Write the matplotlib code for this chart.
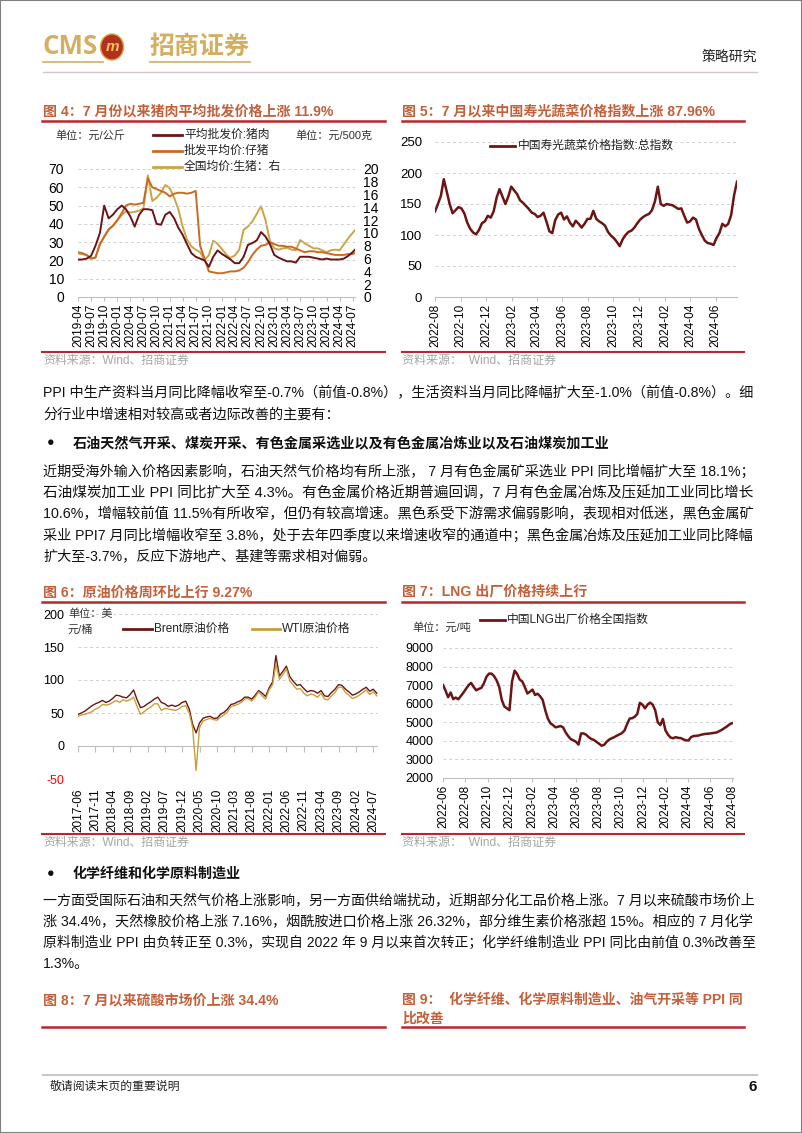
import numpy as np
import pandas as pd
import matplotlib
matplotlib.use("Agg")
import matplotlib.pyplot as plt
from matplotlib.lines import Line2D
from matplotlib.patches import Ellipse, Rectangle

plt.rcParams['font.family'] = ['Liberation Sans', 'Noto Sans CJK SC']
plt.rcParams['axes.unicode_minus'] = False

# ---------------- 数据 ----------------
# 图4: 猪肉价格 (月度, 2019-04 起)
pig_dates = pd.date_range('2019-04-01', periods=65, freq='MS')
pork = [20.5, 20.5, 21, 22.5, 28, 35, 50, 43, 45, 48,
        50, 48, 44, 38.5, 45, 48, 48, 47.5, 40, 39.5,
        45, 46.5, 43, 38, 34, 29, 24, 22, 21, 20,
        16.5, 22, 25.5, 23.5, 22, 20.5, 18.5, 18.5, 22, 28.5,
        29.5, 31, 35.5, 33, 29, 23, 21.5, 20.5, 19.5, 19.5,
        18.8, 22, 22, 22, 21.5, 21, 20.5, 21, 20.5, 20.5,
        20.5, 21, 22.5, 24.5, 27]
piglet = [24.5, 24, 23, 21, 21.5, 29, 33, 37, 39, 42,
          46, 50, 51, 50.5, 51, 51.5, 65, 60, 59, 58,
          57, 55, 56.5, 57, 57, 56.5, 57, 58, 28, 21,
          14, 13.5, 13, 13, 13.5, 14, 14, 14.5, 16, 19,
          23, 26, 28, 28.5, 30, 29, 28, 28, 27.5, 27.5,
          26.5, 25.5, 24.5, 25, 25, 24.5, 24.5, 24, 23.5, 23,
          23, 23, 23.5, 23.5, 24.5]
hog = [6.8, 6.7, 6.5, 6.0, 6.2, 8.2, 9.4, 10.5, 11.1, 12.0,
       12.8, 13.4, 13.2, 13.3, 13.5, 13.8, 19.0, 15.0, 15.5, 16.3,
       17.5, 17.0, 15.5, 13.8, 11.0, 9.0, 7.9, 7.4, 7.0, 5.8,
       6.5, 8.8, 8.3, 7.5, 6.6, 6.1, 6.5, 7.4, 10.5, 11.0,
       11.8, 13.0, 14.2, 12.0, 8.8, 7.6, 7.4, 7.6, 7.7, 7.4,
       7.3, 8.9, 8.4, 8.0, 7.6, 7.6, 7.3, 7.0, 7.3, 7.4,
       7.3, 8.2, 9.2, 10.0, 10.8]

# 图5: 寿光蔬菜价格指数 (周度, 2022-08 起)
veg_dates = pd.date_range('2022-08-01', periods=104, freq='7D')
veg = [138, 150, 163, 190, 170, 150, 135, 140, 145, 143,
       135, 120, 110, 104, 101, 108, 119, 122, 131, 128,
       138, 160, 174, 162, 150, 162, 178, 172, 166, 156,
       152, 147, 142, 136, 134, 129, 131, 136, 122, 106,
       103, 124, 133, 136, 125, 130, 120, 114, 123, 118,
       112, 118, 126, 126, 139, 126, 122, 119, 115, 105,
       99, 95, 89, 82, 93, 100, 105, 107, 112, 119,
       125, 129, 132, 134, 140, 154, 178, 150, 147, 150,
       149, 148, 145, 142, 143, 131, 120, 122, 128, 125,
       110, 100, 91, 87, 86, 84, 95, 103, 118, 114,
       118, 132, 164, 186]

# 图6: 原油价格 (月度, 2017-06 起)
oil_dates = pd.date_range('2017-06-01', periods=87, freq='MS')
brent = [48, 50, 53, 57, 61, 64, 66, 69, 66, 68,
         72, 77, 76, 74, 73, 78, 85, 70, 58, 60,
         64, 67, 71, 74, 66, 64, 60, 62, 60, 62,
         66, 68, 56, 33, 20, 35, 42, 44, 45, 42,
         42, 48, 51, 56, 63, 64, 67, 69, 74, 74,
         71, 77, 84, 80, 75, 88, 97, 137, 106, 113,
         121, 105, 98, 92, 93, 87, 82, 84, 83, 80,
         84, 76, 75, 81, 86, 93, 92, 86, 82, 77,
         79, 82, 86, 89, 83, 86, 80]
wti = [45, 47, 48, 50, 52, 56, 58, 63, 62, 63,
       66, 69, 66, 70, 68, 70, 74, 60, 48, 52,
       56, 59, 64, 64, 54, 57, 56, 55, 54, 56,
       60, 61, 50, 28, -37, 28, 38, 40, 42, 40,
       39, 44, 47, 52, 60, 61, 63, 66, 71, 72,
       68, 74, 82, 76, 71, 85, 93, 124, 101, 108,
       117, 99, 92, 86, 87, 80, 76, 79, 77, 74,
       80, 71, 70, 76, 81, 89, 89, 81, 77, 72,
       74, 77, 81, 85, 78, 82, 76]

# 图7: LNG 出厂价格 (周度, 2022-06 起)
lng_dates = pd.date_range('2022-06-01', periods=114, freq='7D')
lng = [7010, 6700, 6350, 6600, 6250, 6330, 6240, 6420, 6600, 6800,
       7000, 7120, 6900, 6720, 6800, 6850, 7100, 7450, 7620, 7620,
       7480, 7250, 6900, 6200, 5850, 5750, 5650, 7200, 7780, 7600,
       7300, 7200, 6900, 6550, 6650, 6760, 6470, 6540, 6400, 6200,
       5650, 5200, 4950, 4850, 4730, 4760, 4800, 4720, 4450, 4250,
       4090, 4030, 3950, 3800, 4400, 4400, 4330, 4200, 4100, 4050,
       3950, 3850, 3740, 3780, 3950, 4070, 4140, 4200, 4280, 4350,
       4420, 4560, 4900, 5200, 5220, 5300, 5450, 6050, 5950, 5750,
       5950, 6060, 5950, 5650, 5000, 4850, 5180, 4570, 4330, 4180,
       4140, 4200, 4160, 4150, 4080, 4030, 4020, 4200, 4260, 4270,
       4290, 4330, 4360, 4380, 4390, 4410, 4430, 4450, 4520, 4590,
       4680, 4770, 4880, 4950]

# ---------------- 样式 ----------------
MAROON = '#6B1515'
ORANGE = '#CC6A21'
GOLD = '#C9A544'
WTI_C = '#C8A03A'
TITLE_C = '#C4603A'
RULE_C = '#B8272C'
GRID_C = '#D0D0D0'
AX_C = '#BFBFBF'
SRC_C = '#A6A6A6'
LOGO_C = '#D4AF62'

W, H = 802, 1133
fig = plt.figure(figsize=(W / 100, H / 100), dpi=100)
renderer = fig.canvas.get_renderer()


def txt(x, y, s, size, w=None, **kw):
    kw.setdefault('va', 'center')
    t = fig.text(x / W, 1 - y / H, s, fontsize=size, **kw)
    if w is not None:
        bw = t.get_window_extent(renderer).width
        t.set_fontsize(size * w / bw)
    return t


def hline(x0, x1, y, color, lw):
    fig.add_artist(Line2D([x0 / W, x1 / W], [1 - y / H] * 2, color=color, lw=lw))


def axes_px(x0, y0, x1, y1):
    return fig.add_axes([x0 / W, 1 - y1 / H, (x1 - x0) / W, (y1 - y0) / H])


def style(ax, ticks, ysize, ypad):
    for s in ('top', 'right', 'left'):
        ax.spines[s].set_visible(False)
    ax.spines['bottom'].set_color(AX_C)
    ax.spines['bottom'].set_linewidth(0.8)
    ax.yaxis.grid(True, color=GRID_C, ls=(0, (3, 3)), lw=0.7)
    ax.set_axisbelow(True)
    ax.set_xticks(ticks)
    ax.set_xticklabels([d.strftime('%Y-%m') for d in ticks])
    ax.tick_params(axis='x', length=3, width=0.8, color=AX_C, pad=2,
                   labelsize=8.5, labelrotation=90)
    ax.tick_params(axis='y', length=0, labelsize=ysize, pad=ypad)


# 页面边框与页眉
fig.add_artist(Rectangle((0, 0), 1, 1, transform=fig.transFigure, fill=False,
                         ec='#808080', lw=1.5))
txt(43, 47, 'CMS', 17, w=55, family='Open Sans', weight='bold', color=LOGO_C)
fig.add_artist(Ellipse((112 / W, 1 - 47 / H), 23 / W, 26 / H,
                       transform=fig.transFigure, fc='#B3321F', ec='#D9A441', lw=1))
txt(112, 47, 'm', 11, ha='center', weight='bold', style='italic', color='#F2C45A')
txt(150, 47, '招商证券', 18, w=100, weight='bold', color=LOGO_C)
hline(43, 103, 62, '#D9BE7E', 1.5)
hline(150, 250, 62, '#D9BE7E', 1.5)
hline(43, 757, 72, '#D8C6C6', 1)
txt(757, 57, '策略研究', 10, ha='right', color='#222222')

# ---------------- 图4 ----------------
txt(43, 111, '图 4：7 月份以来猪肉平均批发价格上涨 11.9%', 10, w=290,
    weight='bold', color=TITLE_C)
hline(42, 385, 121, RULE_C, 1.8)
txt(55, 135, '单位：元/公斤', 8, color='#333333')
txt(295, 135, '单位：元/500克', 8, color='#333333')
for yy, c, lab in [(135, MAROON, '平均批发价:猪肉'), (151, ORANGE, '批发平均价:仔猪'),
                   (167, GOLD, '全国均价:生猪：右')]:
    hline(153, 182, yy, c, 2)
    txt(184, yy, lab, 8.5, color='#222222')

ax = axes_px(78, 169, 355, 297)
ax2 = ax.twinx()
ax.set_zorder(ax2.get_zorder() + 1)
ax.patch.set_visible(False)
ax2.plot(pig_dates, hog, color=GOLD, lw=1.4)
ax.plot(pig_dates, piglet, color=ORANGE, lw=1.4)
ax.plot(pig_dates, pork, color=MAROON, lw=1.4)
ax.set_xlim(pig_dates[0], pd.Timestamp('2024-07-18'))
ax.set_ylim(0, 70)
ax.set_yticks(range(0, 71, 10))
ax2.set_ylim(0, 20)
ax2.set_yticks(range(0, 21, 2))
for s in ax2.spines.values():
    s.set_visible(False)
ax2.tick_params(axis='y', length=0, labelsize=10, pad=6)
style(ax, pd.date_range('2019-04-01', '2024-07-01', freq='3MS'), 10, 10)
hline(42, 385, 352, RULE_C, 1.5)
txt(43, 361, '资料来源：Wind、招商证券', 8.8, w=147, color=SRC_C)

# ---------------- 图5 ----------------
txt(402, 111, '图 5：7 月以来中国寿光蔬菜价格指数上涨 87.96%', 10, w=313,
    weight='bold', color=TITLE_C)
hline(402, 744, 121, RULE_C, 1.8)
hline(490, 515, 146, MAROON, 2)
txt(518, 146, '中国寿光蔬菜价格指数:总指数', 8.5, color='#222222')
ax = axes_px(435, 142, 737, 297)
ax.plot(veg_dates, veg, color=MAROON, lw=1.8)
ax.set_xlim(veg_dates[0], veg_dates[-1])
ax.set_ylim(0, 250)
ax.set_yticks(range(0, 251, 50))
style(ax, pd.date_range('2022-08-01', '2024-06-01', freq='2MS'), 9.5, 9.4)
hline(402, 744, 352, RULE_C, 1.5)
txt(402, 361, '资料来源：  Wind、招商证券', 8.8, w=155, color=SRC_C)

# ---------------- 正文 ----------------
body1 = ['PPI 中生产资料当月同比降幅收窄至-0.7%（前值-0.8%），生活资料当月同比降幅扩大至-1.0%（前值-0.8%）。细',
         '分行业中增速相对较高或者边际改善的主要有：']
body2 = ['近期受海外输入价格因素影响，石油天然气价格均有所上涨， 7 月有色金属矿采选业 PPI 同比增幅扩大至 18.1%；',
         '石油煤炭加工业 PPI 同比扩大至 4.3%。有色金属价格近期普遍回调，7 月有色金属冶炼及压延加工业同比增长',
         '10.6%，增幅较前值 11.5%有所收窄，但仍有较高增速。黑色系受下游需求偏弱影响，表现相对低迷，黑色金属矿',
         '采业 PPI7 月同比增幅收窄至 3.8%，处于去年四季度以来增速收窄的通道中；黑色金属冶炼及压延加工业同比降幅',
         '扩大至-3.7%，反应下游地产、基建等需求相对偏弱。']
body3 = ['一方面受国际石油和天然气价格上涨影响，另一方面供给端扰动，近期部分化工品价格上涨。7 月以来硫酸市场价上',
         '涨 34.4%，天然橡胶价格上涨 7.16%，烟酰胺进口价格上涨 26.32%，部分维生素价格涨超 15%。相应的 7 月化学',
         '原料制造业 PPI 由负转正至 0.3%，实现自 2022 年 9 月以来首次转正；化学纤维制造业 PPI 同比由前值 0.3%改善至',
         '1.3%。']

sizes = []
partial = []
for lines, ys in [(body1, [393, 415]), (body2, [472, 493, 514, 536, 557]),
                  (body3, [901, 922, 943, 964])]:
    for i, (s, yy) in enumerate(zip(lines, ys)):
        if i < len(lines) - 1:
            t = txt(43, yy, s, 10.5, w=714, color='#111111')
            sizes.append(t.get_fontsize())
        else:
            partial.append(txt(43, yy, s, 10.5, color='#111111'))
for t in partial:
    t.set_fontsize(float(np.median(sizes)))

txt(47, 443, '●', 9, color='#111111')
txt(73, 443, '石油天然气开采、煤炭开采、有色金属采选业以及有色金属冶炼业以及石油煤炭加工业', 10.5,
    w=536, weight='bold', color='#111111')
txt(47, 874, '●', 9, color='#111111')
txt(73, 874, '化学纤维和化学原料制造业', 10.5, w=169, weight='bold', color='#111111')

# ---------------- 图6 ----------------
txt(43, 593, '图 6：原油价格周环比上行 9.27%', 10, w=210, weight='bold', color=TITLE_C)
hline(42, 385, 602, RULE_C, 1.8)
txt(68, 614, '单位：美', 8, color='#333333')
txt(68, 630, '元/桶', 8, color='#333333')
hline(123, 152, 629, MAROON, 2)
txt(154, 629, 'Brent原油价格', 8.5, color='#222222')
hline(252, 280, 629, WTI_C, 2)
txt(282, 629, 'WTI原油价格', 8.5, color='#222222')

ax = axes_px(78, 614, 378, 779)
ax.plot(oil_dates, brent, color=MAROON, lw=1.0)
ax.plot(oil_dates, wti, color=WTI_C, lw=1.0)
ax.set_xlim(oil_dates[0], pd.Timestamp('2024-08-12'))
ax.set_ylim(-50, 200)
ax.set_yticks(range(-50, 201, 50))
oil_ticks = pd.date_range('2017-06-01', '2024-07-01', freq='5MS')
style(ax, oil_ticks, 9, 10)
ax.spines['bottom'].set_visible(False)
ax.tick_params(axis='x', length=0, pad=7)
ax.axhline(0, color=AX_C, lw=0.8, zorder=1)
ax.plot(oil_ticks, np.zeros(len(oil_ticks)), ls='none', marker=3, ms=4,
        mew=0.8, color=AX_C, clip_on=False)
ax.get_yticklabels()[0].set_color('red')
hline(42, 385, 834, RULE_C, 1.5)
txt(43, 843, '资料来源：Wind、招商证券', 8.8, w=147, color=SRC_C)

# ---------------- 图7 ----------------
txt(402, 592, '图 7：LNG 出厂价格持续上行', 10, w=185, weight='bold', color=TITLE_C)
hline(402, 744, 602, RULE_C, 1.8)
txt(412, 627, '单位：元/吨', 8, color='#333333')
hline(480, 505, 620, MAROON, 2)
txt(507, 620, '中国LNG出厂价格全国指数', 8.5, color='#222222')
ax = axes_px(443, 648, 733, 778)
ax.plot(lng_dates, lng, color=MAROON, lw=1.8)
ax.set_xlim(lng_dates[0], pd.Timestamp('2024-08-03'))
ax.set_ylim(2000, 9000)
ax.set_yticks(range(2000, 9001, 1000))
style(ax, pd.date_range('2022-06-01', '2024-08-01', freq='2MS'), 9, 7)
hline(402, 744, 834, RULE_C, 1.5)
txt(402, 843, '资料来源：  Wind、招商证券', 8.8, w=155, color=SRC_C)

# ---------------- 图8 / 图9 标题 ----------------
txt(43, 1000, '图 8：7 月以来硫酸市场价上涨 34.4%', 10, w=236, weight='bold', color=TITLE_C)
hline(42, 385, 1027, RULE_C, 1.8)
t9 = txt(402, 1000, '图 9：  化学纤维、化学原料制造业、油气开采等 PPI 同', 10, w=341,
         weight='bold', color=TITLE_C)
txt(402, 1019, '比改善', t9.get_fontsize(), weight='bold', color=TITLE_C)
hline(402, 744, 1027, RULE_C, 1.8)

# 页脚
hline(43, 757, 1075, '#C8C8C8', 1.5)
txt(50, 1087, '敬请阅读末页的重要说明', 8.5, w=130, color='#222222')
txt(757, 1087, '6', 11, ha='right', weight='bold', color='#111111')

fig.savefig('out.png', dpi=100)
